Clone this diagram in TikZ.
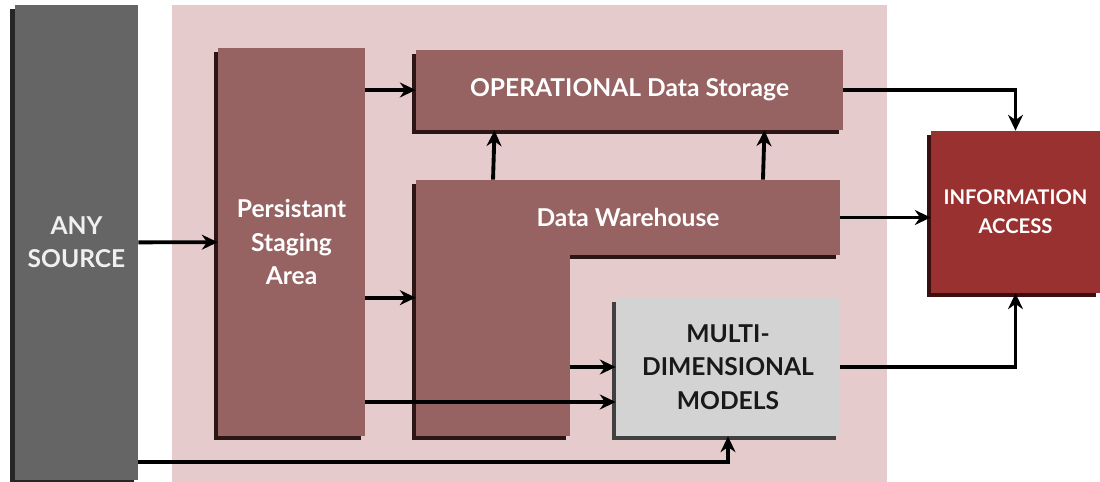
\documentclass[tikz,border=0pt]{standalone}
\usepackage{fontspec}
\setmainfont{Lato}
\usepackage{xcolor}
\usetikzlibrary{arrows.meta, positioning, shadows, calc}
\definecolor{stagebg}{HTML}{E6CBCC}
\definecolor{whbrown}{HTML}{966262}
\definecolor{whshadow}{HTML}{2B1515}
\definecolor{srcgray}{HTML}{656565}
\definecolor{infored}{HTML}{9A3131}
\definecolor{infoshadow}{HTML}{3A0F0F}
\definecolor{mdmgray}{HTML}{D3D3D3}
\tikzstyle{blocktext} = [inner sep=0pt, align=center, text=white,
    font=\bfseries\fontsize{14}{19}\selectfont]
\tikzstyle{block} = [rectangle, blocktext,
    drop shadow={shadow xshift=-0.08cm, shadow yshift=-0.08cm, fill=whshadow, opacity=1}]
\tikzstyle{whblock} = [block, fill=whbrown]
\tikzstyle{srcblock} = [block, fill=srcgray, text=white!94!black,
    drop shadow={shadow xshift=-0.1cm, shadow yshift=-0.08cm, fill=black!85, opacity=1}]
\tikzstyle{mdmblock} = [block, fill=mdmgray, text=black!90,
    drop shadow={shadow xshift=-0.08cm, shadow yshift=-0.08cm, fill=black!75, opacity=1}]
\tikzstyle{infoblock} = [block, fill=infored, font=\bfseries\fontsize{11.5}{16.5}\selectfont,
    drop shadow={shadow xshift=-0.08cm, shadow yshift=-0.08cm, fill=infoshadow, opacity=1}]
\tikzstyle{arrow} = [line width=2.2pt,-{Stealth[length=9pt,width=8.5pt]}]

\begin{document}
\begin{tikzpicture}[x=0.02cm, y=-0.02cm]
  \useasboundingbox (0,0) rectangle (1100,482);
  % Staging area background
  \fill[stagebg] (172,5) rectangle (887,482);

  % Blocks
  \node[srcblock, minimum width=2.46cm, minimum height=9.5cm](src) at (76.5,242.5)
    {ANY\\SOURCE};
  \node[whblock, minimum width=2.94cm, minimum height=7.76cm](psa) at (291.5,242)
    {Persistant\\Staging\\Area};
  \node[whblock, minimum width=8.54cm, minimum height=1.6cm](ods) at (629.5,90)
    {OPERATIONAL Data Storage};
  \node[whblock, minimum width=8.48cm, minimum height=1.5cm](dw) at (628,217.5) {};
  \node[whblock, minimum width=3.08cm, minimum height=5.12cm](dwleg) at (493,308) {};
  \node[blocktext](dwlabel) at (dw) {Data Warehouse};
  \node[mdmblock, minimum width=4.48cm, minimum height=2.76cm](mdm) at (728,367)
    {MULTI-\\DIMENSIONAL\\MODELS};
  \node[infoblock, minimum width=3.38cm, minimum height=3.24cm](info) at (1015.5,212)
    {INFORMATION\\ACCESS};
  \coordinate[yshift=-0.7cm](low) at (mdm.west);

  % Connectors
  \draw[arrow](src)--(psa);
  \draw[arrow](psa.east |- ods)--(ods.west);
  \draw[arrow](psa.east |- mdm.north)--(dwleg.west |- mdm.north);
  \draw[arrow](psa.east |- low)--(low);
  \draw[arrow](dwleg.east |- mdm.west)--(mdm.west);
  \foreach \dx in {-2.7,2.7}
    \draw[arrow]([xshift=\dx cm]dw.north)--([xshift=\dx cm]ods.south);
  \draw[arrow](ods.east)-|(info.north);
  \draw[arrow](dw.east)--(dw.east -| info.west);
  \draw[arrow](mdm.east)-|(info.south);
  \draw[arrow]([yshift=0.36cm]src.south east)-|(mdm.south);
\end{tikzpicture}
\end{document}
